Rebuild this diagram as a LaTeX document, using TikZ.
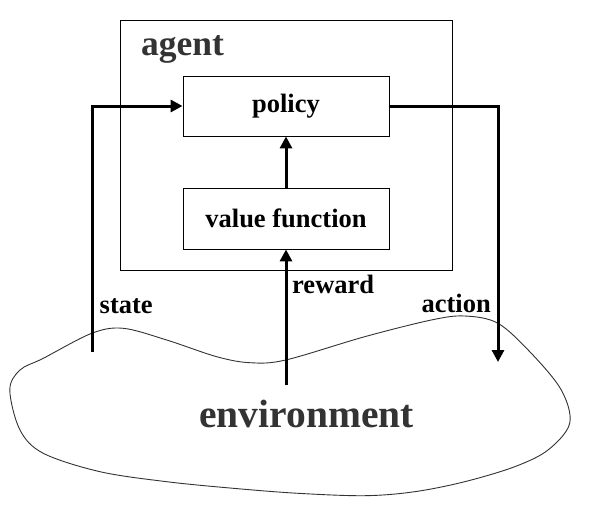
\documentclass[tikz,border=0pt]{standalone}
\usepackage{fontspec}
\setmainfont{Liberation Serif}
\usetikzlibrary{arrows.meta}
\definecolor{dgray}{HTML}{333333}
\tikzset{
  boxnode/.style={draw=black,line width=0.9pt,inner sep=0pt},
  lbl/.style={inner sep=0pt,font=\bfseries\fontsize{26.5}{30}\selectfont},
  big/.style={inner sep=0pt,text=dgray},
  flow/.style={line width=3pt,-{Triangle[length=12pt,width=12pt]}},
  flowplain/.style={line width=3pt},
}
\begin{document}
\begin{tikzpicture}[x=1pt,y=-1pt]
\useasboundingbox[fill=white] (0,0) rectangle (598,507);
% environment blob
\draw[line width=0.9pt,draw=dgray] plot[smooth cycle,tension=0.55] coordinates {
 (91.7,333.3) (123.3,328.3) (166.7,340) (216.7,356.7) (250,362.7) (285.7,360)
 (364.7,336.7) (431.3,320) (464.7,316) (498,323.3) (531.3,353.3) (561.3,390)
 (569.7,423.3) (548,450) (514.7,466.7) (464.7,481.7) (414.7,491.7) (364.7,495.7)
 (298,493.3) (233.3,488.3) (166.7,481.7) (100,471.7) (43.3,453.3) (20,430) (9.8,390)
 (20,370) (43.3,358.3)};
% agent box
\node[boxnode,minimum width=332pt,minimum height=250pt] (agent) at (286,145) {};
\node[big,anchor=base west,font=\bfseries\fontsize{35.5}{40}\selectfont] (agentlbl) at (141,55) {agent};
% inner boxes
\node[boxnode,lbl,minimum width=206pt,minimum height=60pt] (policy) at (286,106) {policy};
\node[boxnode,lbl,minimum width=206pt,minimum height=61pt] (value) at (286,218.5) {value function};
% environment label
\node[big,anchor=base,font=\bfseries\fontsize{39.5}{44}\selectfont] (env) at (306.5,427) {environment};
% connector ends
\coordinate (s0) at (92,352);
\coordinate (a1) at (498,362);
\coordinate (r0) at (286,385);
% connectors
\draw[flow] (s0) |- (policy.west);
\draw[flow] (policy.east) -| (a1);
\draw[flow] (r0) -- (value.south);
\draw[flow] (value.north) -- (policy.south);
% labels
\node[lbl,anchor=base west] (state) at (99.5,313) {state};
\node[lbl,anchor=base west] (reward) at (292,293.5) {reward};
\node[lbl,anchor=base east] (action) at (491,312) {action};
\end{tikzpicture}
\end{document}
